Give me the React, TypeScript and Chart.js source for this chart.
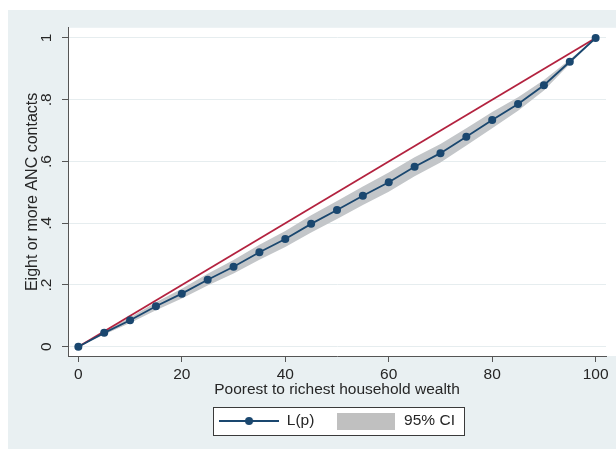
import React, { useEffect, useRef } from "react";
import { Chart, registerables } from "chart.js";

Chart.register(...registerables);

// ---- data ----
const percentiles = [0, 5, 10, 15, 20, 25, 30, 35, 40, 45, 50, 55, 60, 65, 70, 75, 80, 85, 90, 95, 100];
const lorenz = [0, 0.045, 0.086, 0.131, 0.172, 0.217, 0.259, 0.306, 0.349, 0.398, 0.443, 0.489, 0.533, 0.583, 0.627, 0.68, 0.734, 0.786, 0.847, 0.923, 1.0];
const ciUpper = [0, 0.05, 0.095, 0.144, 0.188, 0.236, 0.281, 0.33, 0.375, 0.426, 0.472, 0.519, 0.564, 0.614, 0.657, 0.708, 0.76, 0.808, 0.864, 0.93, 1.0];
const ciLower = [0, 0.04, 0.077, 0.118, 0.156, 0.198, 0.237, 0.282, 0.323, 0.37, 0.414, 0.459, 0.502, 0.552, 0.597, 0.652, 0.708, 0.764, 0.83, 0.916, 1.0];
const equalityX = [0, 100];
const equalityY = [0, 1];

const xTickValues = [0, 20, 40, 60, 80, 100];
const xTickLabels = ["0", "20", "40", "60", "80", "100"];
const yTickValues = [0, 0.2, 0.4, 0.6, 0.8, 1];
const yTickLabels = ["0", ".2", ".4", ".6", ".8", "1"];
const legendLabels = ["L(p)", "95% CI"];
const xTitle = "Poorest to richest household wealth";
const yTitle = "Eight or more ANC contacts";

// ---- styles ----
const FONT = "'Liberation Sans', Arial, sans-serif";
const NAVY = "#1a476f";
const RED = "#b3223f";
const BAND = "#c3c6c9";
const TEXT = "#262626";
const AXIS = "#555555";
const GRID = "#e6edef";

export default function App() {
  const ref = useRef<HTMLCanvasElement | null>(null);

  useEffect(() => {
    if (!ref.current) return;

    const lineSym = document.createElement("canvas");
    lineSym.width = 60;
    lineSym.height = 10;
    {
      const c = lineSym.getContext("2d")!;
      c.strokeStyle = NAVY;
      c.lineWidth = 1.8;
      c.beginPath();
      c.moveTo(0, 5);
      c.lineTo(60, 5);
      c.stroke();
      c.fillStyle = NAVY;
      c.beginPath();
      c.arc(30, 5, 4, 0, Math.PI * 2);
      c.fill();
    }
    const boxSym = document.createElement("canvas");
    boxSym.width = 58;
    boxSym.height = 17;
    {
      const c = boxSym.getContext("2d")!;
      c.fillStyle = "#c0c0c0";
      c.fillRect(0, 0, 58, 17);
    }

    const bgPlugin = {
      id: "stataBg",
      beforeDraw(chart: any) {
        const { ctx, chartArea: a, width } = chart;
        ctx.save();
        ctx.fillStyle = "#ffffff";
        ctx.fillRect(a.left, a.top, width - a.left, a.bottom - a.top);
        const lg = chart.legend;
        if (lg && lg.legendHitBoxes && lg.legendHitBoxes.length) {
          const hb = lg.legendHitBoxes;
          const first = hb[0];
          const last = hb[hb.length - 1];
          const cy = first.top + first.height / 2;
          const x0 = Math.round(first.left - 6) + 0.5;
          const x1 = Math.round(last.left + last.width + 9) + 0.5;
          const y0 = Math.round(cy - 14) + 0.5;
          const y1 = Math.round(cy + 14) + 0.5;
          ctx.fillStyle = "#ffffff";
          ctx.fillRect(x0, y0, x1 - x0, y1 - y0);
          ctx.strokeStyle = "#3a3a3a";
          ctx.lineWidth = 1;
          ctx.strokeRect(x0, y0, x1 - x0, y1 - y0);
        }
        ctx.restore();
      },
    };

    const pts = (xs: number[], ys: number[]) => xs.map((x, i) => ({ x, y: ys[i] }));

    const chart = new Chart(ref.current, {
      type: "line",
      data: {
        datasets: [
          {
            label: legendLabels[0],
            data: pts(percentiles, lorenz),
            borderColor: NAVY,
            backgroundColor: NAVY,
            borderWidth: 1.8,
            pointRadius: 4,
            pointBackgroundColor: NAVY,
            pointBorderColor: NAVY,
            pointBorderWidth: 0,
            fill: false,
            tension: 0,
          },
          {
            label: "Equality",
            data: pts(equalityX, equalityY),
            borderColor: RED,
            borderWidth: 1.8,
            pointRadius: 0,
            fill: false,
          },
          {
            label: "CI upper",
            data: pts(percentiles, ciUpper),
            borderColor: "rgba(0,0,0,0)",
            borderWidth: 0,
            pointRadius: 0,
            backgroundColor: BAND,
            fill: "+1",
          },
          {
            label: "CI lower",
            data: pts(percentiles, ciLower),
            borderColor: "rgba(0,0,0,0)",
            borderWidth: 0,
            pointRadius: 0,
            fill: false,
          },
        ],
      },
      options: {
        responsive: false,
        animation: false,
        events: [],
        layout: { padding: { top: 16, right: 10, bottom: 10.25, left: 15 } },
        plugins: {
          tooltip: { enabled: false },
          legend: {
            display: true,
            position: "bottom",
            fullSize: false,
            onClick: () => {},
            labels: {
              usePointStyle: true,
              pointStyleWidth: 60,
              padding: 22,
              font: { family: FONT, size: 15.5 },
              color: TEXT,
              generateLabels: () => [
                { text: legendLabels[0], pointStyle: lineSym, fillStyle: NAVY, strokeStyle: NAVY, lineWidth: 0, hidden: false, datasetIndex: 0, fontColor: TEXT },
                { text: legendLabels[1], pointStyle: boxSym, fillStyle: BAND, strokeStyle: BAND, lineWidth: 0, hidden: false, datasetIndex: 2, fontColor: TEXT },
              ],
            },
          },
        },
        scales: {
          x: {
            type: "linear",
            min: -2,
            max: 102,
            afterBuildTicks: (s: any) => {
              s.ticks = xTickValues.map((v) => ({ value: v }));
            },
            afterFit: (s: any) => {
              s.height = 35.25;
            },
            ticks: {
              autoSkip: false,
              maxRotation: 0,
              padding: 3.5,
              color: TEXT,
              font: { family: FONT, size: 15.5 },
              callback: (v: any, i: number) => xTickLabels[i],
            },
            grid: { drawOnChartArea: false, tickLength: 6, tickColor: AXIS, tickWidth: 1 },
            border: { display: true, color: AXIS, width: 1 },
            title: {
              display: true,
              text: xTitle,
              color: TEXT,
              font: { family: FONT, size: 15.5 },
              padding: { top: 0, bottom: -7.65 },
            },
          },
          y: {
            type: "linear",
            min: -0.03,
            max: 1.033,
            afterBuildTicks: (s: any) => {
              s.ticks = yTickValues.map((v) => ({ value: v }));
            },
            afterFit: (s: any) => {
              s.width = 45;
            },
            ticks: {
              autoSkip: false,
              minRotation: 90,
              maxRotation: 90,
              crossAlign: "center",
              padding: 8.5,
              color: TEXT,
              font: { family: FONT, size: 15.5 },
              callback: (v: any, i: number) => yTickLabels[i],
            },
            grid: { color: GRID, lineWidth: 1, tickLength: 6, tickColor: AXIS, tickWidth: 1 },
            border: { display: true, color: AXIS, width: 1 },
            title: {
              display: true,
              text: yTitle,
              color: TEXT,
              font: { family: FONT, size: 16 },
              padding: 0,
            },
          },
        },
      } as any,
      plugins: [bgPlugin],
    });

    return () => chart.destroy();
  }, []);

  return (
    <div style={{ position: "fixed", left: 8, top: 10, width: 608, height: 439 }}>
      <canvas
        ref={ref}
        width={608}
        height={439}
        style={{ width: 608, height: 439, display: "block", background: "#e9f0f2" }}
      />
    </div>
  );
}
